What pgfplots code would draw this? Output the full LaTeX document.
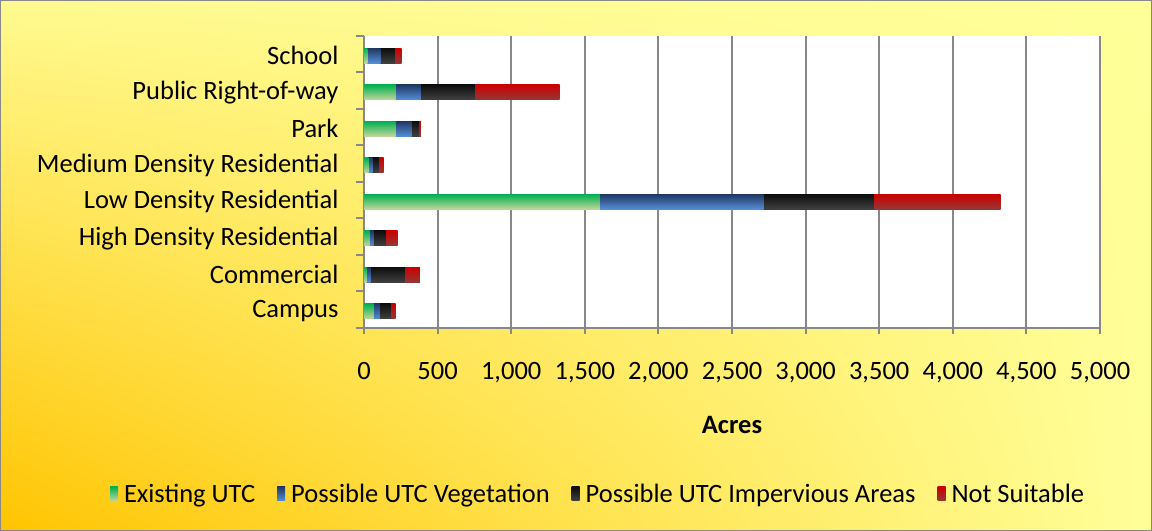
\documentclass[border=0pt]{standalone}
\usepackage{fontspec}
\setmainfont{Carlito}
\usepackage{pgfplots}
\usepackage{pgfplotstable}
\pgfplotsset{compat=1.18}
\usetikzlibrary{shadings}
\definecolor{gtop}{HTML}{00B050}
\definecolor{gbot}{HTML}{C3D69B}
\definecolor{btop}{HTML}{1F3864}
\definecolor{bbot}{HTML}{558ED5}
\definecolor{ktop}{HTML}{0D0D0D}
\definecolor{kbot}{HTML}{404040}
\definecolor{rtop}{HTML}{CC0000}
\definecolor{rbot}{HTML}{953735}
\definecolor{bgLL}{HTML}{FFC400}
\definecolor{bgUL}{HTML}{FFFA90}
\definecolor{bgUR}{HTML}{FFFF99}
\definecolor{bgLR}{HTML}{FFFF99}
\definecolor{gridgray}{HTML}{888888}
\pgfplotstableread{
y existing vegetation impervious notsuitable
0 66 41 74 34
1 18 27 232 102
2 39 27 81 82
3 1603 1112 749 860
4 32 27 41 34
5 215 109 48 14
6 215 171 367 576
7 23 88 98 47
}\datatable
\begin{document}
\begin{tikzpicture}[x=1bp,y=1bp]
\path[use as bounding box] (0,0) rectangle (1152,531);
\shade[lower left=bgLL, upper left=bgUL, upper right=bgUR, lower right=bgLR] (0,0) rectangle (1152,531);
\draw[gridgray, line width=1bp] (0.5,0.5) rectangle (1151.5,530.5);
\begin{axis}[
  at={(364bp,203bp)}, anchor=south west,
  scale only axis, width=736bp, height=292bp,
  xbar, bar width=15bp, bar shift=-1.5bp,
  xmin=0, xmax=5000,
  ymin=-0.5, ymax=7.5,
  xtick={0,500,...,5000},
  ytick={0,...,7},
  yticklabels={Campus,Commercial,High Density Residential,Low Density Residential,Medium Density Residential,Park,Public Right-of-way,School},
  minor ytick={-0.5,0.5,...,7.5},
  major y tick style={draw=none},
  minor y tick style={draw=gridgray, line width=2bp},
  minor tick length=8bp,
  major tick length=6bp,
  tick align=outside,
  xmajorgrids,
  grid style={draw=gridgray, line width=2bp},
  axis x line*=bottom, axis y line*=left,
  axis line style={draw=gridgray, line width=2bp, -},
  x tick style={draw=gridgray, line width=2bp},
  axis background/.style={fill=white},
  /pgf/number format/assume math mode=true,
  /pgf/number format/1000 sep={,},
  tick label style={font=\fontsize{26.6}{32}\selectfont, text=black},
  xticklabel style={yshift=-25bp},
  yticklabel style={xshift=-16bp, yshift=-1.5bp},
  xlabel={\textbf{Acres}},
  xlabel style={font=\fontsize{26.6}{32}\selectfont, yshift=-26bp},
  legend style={at={(0.318,-0.568)}, anchor=center, draw=none, fill=none,
    font=\fontsize{26.6}{32}\selectfont, legend columns=-1,
    /tikz/every odd column/.append style={column sep=4bp},
    /tikz/every even column/.append style={column sep=20bp}},
  legend image code/.code={\path[#1] (0bp,-7bp) rectangle (8bp,7bp);},
]
\pgfplotsinvokeforeach{0,...,7}{
\addplot[forget plot, draw=none, top color=rtop, bottom color=rbot, restrict y to domain=#1:#1]
  table[y=y, x expr=\thisrow{existing}+\thisrow{vegetation}+\thisrow{impervious}+\thisrow{notsuitable}] {\datatable};
\addplot[forget plot, draw=none, top color=ktop, bottom color=kbot, restrict y to domain=#1:#1]
  table[y=y, x expr=\thisrow{existing}+\thisrow{vegetation}+\thisrow{impervious}] {\datatable};
\addplot[forget plot, draw=none, top color=btop, bottom color=bbot, restrict y to domain=#1:#1]
  table[y=y, x expr=\thisrow{existing}+\thisrow{vegetation}] {\datatable};
\addplot[forget plot, draw=none, top color=gtop, bottom color=gbot, restrict y to domain=#1:#1]
  table[y=y, x expr=\thisrow{existing}] {\datatable};
}
\addlegendimage{draw=none, top color=gtop, bottom color=gbot}
\addlegendentry{Existing UTC}
\addlegendimage{draw=none, top color=btop, bottom color=bbot}
\addlegendentry{Possible UTC Vegetation}
\addlegendimage{draw=none, top color=ktop, bottom color=kbot}
\addlegendentry{Possible UTC Impervious Areas}
\addlegendimage{draw=none, top color=rtop, bottom color=rbot}
\addlegendentry{Not Suitable}
\end{axis}
\end{tikzpicture}
\end{document}
